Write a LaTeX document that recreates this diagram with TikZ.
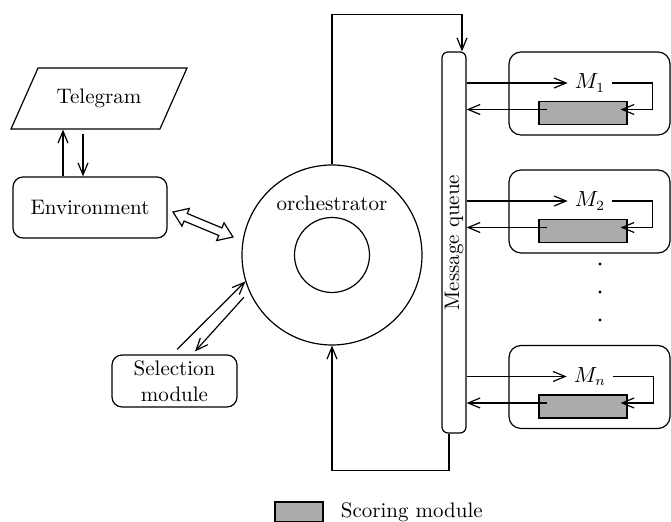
\documentclass[tikz,border=0pt]{standalone}
\usetikzlibrary{shapes.geometric,shapes.arrows,arrows.meta}

\tikzset{
    block/.style={draw,rounded corners=5pt,align=center,inner sep=1pt},
    scorer/.style={draw,fill=black!33,minimum width=44pt,minimum height=11.5pt,inner sep=0pt},
    >={Straight Barb[length=6pt,width=5pt]}
}

\begin{document}
\begin{tikzpicture}[x=0.5pt,y=-0.5pt,line width=0.6pt,font=\fontsize{10.5}{13}\selectfont]
    \useasboundingbox (0,0) rectangle (671,522);
    % left side
    \node [draw,trapezium,trapezium left angle=50,trapezium right angle=130,trapezium stretches body,
           minimum width=88pt,minimum height=30.5pt] (tele) at (99,98.5) {Telegram};
    \node [block,minimum width=77pt,minimum height=30.5pt] (env) at (90,207.5) {Environment};
    \node [block,minimum width=62.5pt,minimum height=26pt] (sel) at (174.5,381) {Selection\\module};
    \draw [->] ([xshift=-13.5pt]env.north) -- ([xshift=-13.5pt]env.north |- tele.south);
    \draw [<-] ([xshift=-3.5pt]env.north) -- ++(0,-42);
    % orchestrator
    \node [draw,circle,minimum size=90pt,inner sep=0pt] (orch) at (332,255) {};
    \node [draw,circle,minimum size=37.5pt,inner sep=0pt] (core) at (orch.center) {};
    \node (orchtext) at ([yshift=26pt]orch.center) {orchestrator};
    \node [draw,double arrow,double arrow head extend=2.75pt,double arrow tip angle=70,
           minimum height=32.5pt,inner sep=1.75pt,rotate=-22.6] (link) at (203,224.5) {};
    \draw [->] ([shift={(2.5,-5)}]sel.north) -- (orch.197);
    \draw [->] ([shift={(-6,4)}]orch.205) -- ([shift={(20.5,-3)}]sel.north);
    % message queue
    \node [draw,rounded corners=3pt,minimum width=12pt,minimum height=190.5pt,inner sep=0pt] (mq) at (454,242.5) {};
    \node [rotate=90] (mqtext) at (mq.center) {Message queue};
    \draw [->] (orch.north) -- ++(0,-150) -| ([xshift=4pt]mq.north);
    \draw [->] ([xshift=-2.5pt]mq.south) -- ++(0,37) -| (orch.south);
    % models
    \foreach \i/\yc/\lab in {1/93.5/M_1,2/211.5/M_2,3/387/M_n}{
        \node [draw,rounded corners=6pt,minimum width=80.5pt,minimum height=41.5pt] (box\i) at (589.5,\yc) {};
        \node (m\i) at (590,\yc-10.5) {$\lab$};
        \node [scorer] (s\i) at (583,\yc+19.5) {};
        \coordinate (t\i) at ([shift={(-7,-3.5)}]s\i.east);
        \coordinate (r\i) at ([shift={(9,-3.5)}]s\i.west);
        \draw [->] (mq.east |- m\i) -- (m\i);
        \draw [->] (m\i.east) -- ++(40,0) |- (t\i);
        \draw [->] (r\i) -- (r\i -| mq.east);
    }
    \foreach \y in {264,292,320}
        \fill (600,\y) circle (0.8pt);
    % legend
    \node [scorer,minimum width=24pt,minimum height=10pt] (key) at (299,512) {};
    \node [anchor=west,xshift=5pt] (keytext) at (key.east) {Scoring module};
\end{tikzpicture}
\end{document}
